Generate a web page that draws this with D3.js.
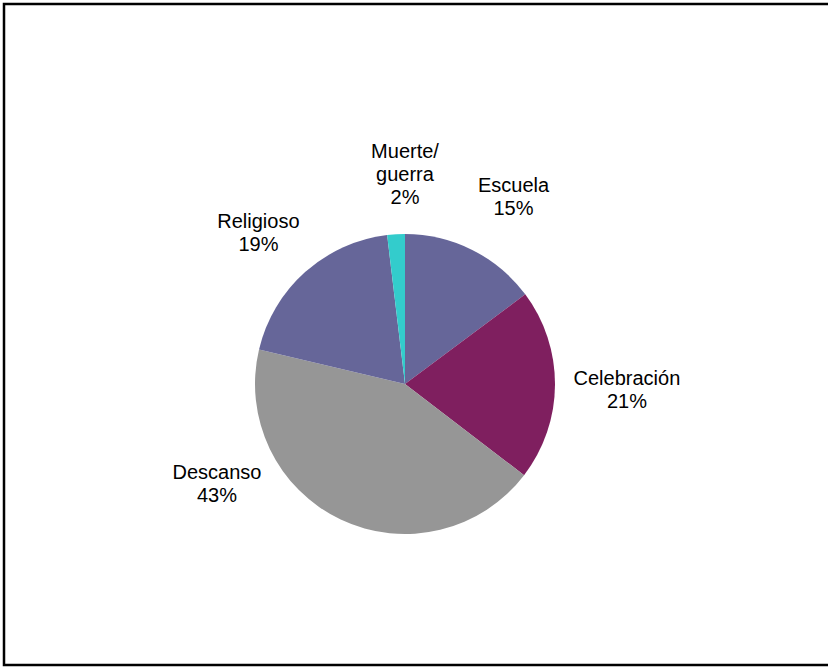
<!DOCTYPE html>
<html>
<head>
<meta charset="utf-8">
<script src="https://cdn.jsdelivr.net/npm/d3@7"></script>
<style>
  html, body { margin: 0; padding: 0; background: #fff; }
  svg { display: block; }
  text { font-family: "Liberation Sans", Arial, sans-serif; font-size: 20px; fill: #000; }
</style>
</head>
<body>
<svg id="chart" width="828" height="670"></svg>
<script>
// Data
const categories = ["Escuela", "Celebración", "Descanso", "Religioso", "Muerte/guerra"];
const labelLines = [["Escuela"], ["Celebración"], ["Descanso"], ["Religioso"], ["Muerte/", "guerra"]];
const values = [14.8, 20.6, 43.3, 19.4, 1.9];
const percentLabels = ["15%", "21%", "43%", "19%", "2%"];
const colors = ["#666699", "#7f1f5f", "#969696", "#666699", "#33cccc"];

// Label layout (angle in degrees clockwise from top, radius from centre)
const labelLayout = [
  { angle: 30, r: 217 },
  { angle: 91.5, r: 222 },
  { angle: 242, r: 213 },
  { angle: 316, r: 211 },
  { angle: 0, r: 210 }
];

const svg = d3.select("#chart");

// Frame
svg.append("rect")
  .attr("x", 4).attr("y", 4)
  .attr("width", 840).attr("height", 661)
  .attr("fill", "none")
  .attr("stroke", "#000")
  .attr("stroke-width", 2.5);

const cx = 405, cy = 384, radius = 150;

const pie = d3.pie().sort(null).value(d => d)(values);
const arc = d3.arc().innerRadius(0).outerRadius(radius);

const g = svg.append("g").attr("transform", `translate(${cx},${cy})`);

g.selectAll("path")
  .data(pie)
  .join("path")
  .attr("d", arc)
  .attr("fill", (d, i) => colors[i]);

const lineH = 23;

pie.forEach((d, i) => {
  const lay = labelLayout[i];
  const a = lay.angle * Math.PI / 180;
  const x = Math.sin(a) * lay.r;
  const y = -Math.cos(a) * lay.r;
  const lines = labelLines[i].concat([percentLabels[i]]);
  const n = lines.length;
  const y0 = y - (n - 1) * lineH / 2 + 7;
  const t = g.append("text").attr("text-anchor", "middle");
  lines.forEach((ln, k) => {
    t.append("tspan").attr("x", x).attr("y", y0 + k * lineH).text(ln);
  });
});
</script>
</body>
</html>
